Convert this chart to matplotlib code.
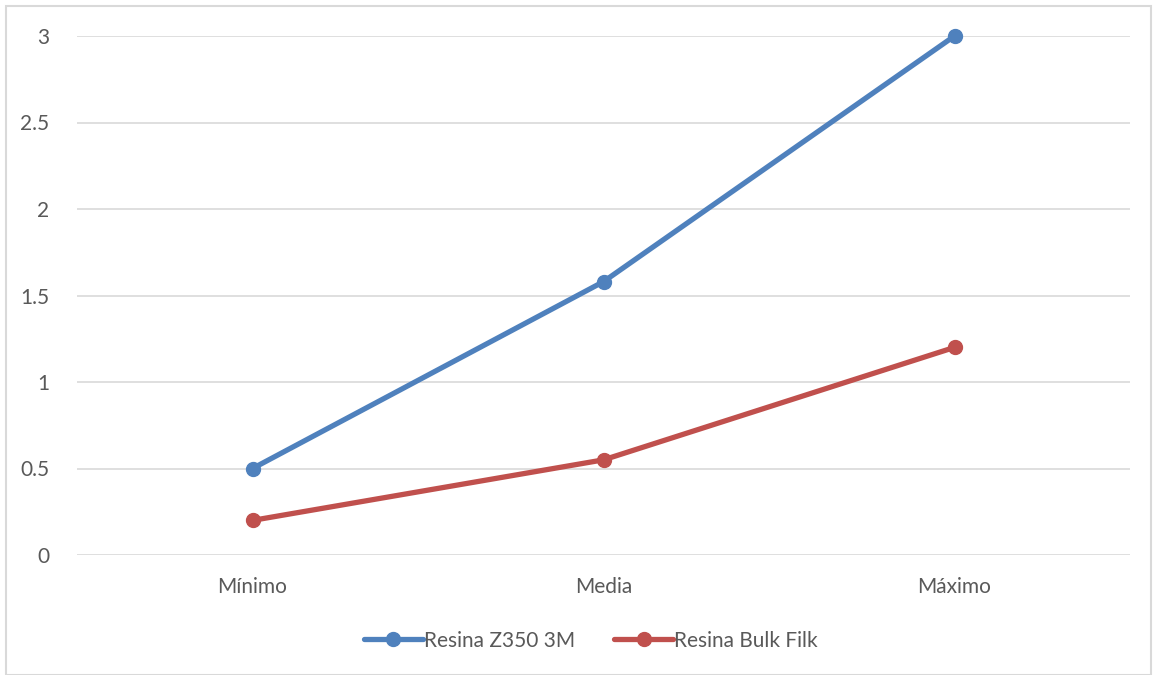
import matplotlib.pyplot as plt
from matplotlib.patches import Rectangle

categories = ["Mínimo", "Media", "Máximo"]
z350 = [0.5, 1.58, 3.0]
bulk = [0.2, 0.55, 1.2]
labels = ["Resina Z350 3M", "Resina Bulk Filk"]
colors = ["#4F81BD", "#C0504D"]

plt.rcParams["font.family"] = ["Lato", "DejaVu Sans"]
TXT = "#595959"

fig = plt.figure(figsize=(11.53, 6.75), dpi=100)
ax = fig.add_axes([77 / 1153, 120 / 675, 1053 / 1153, 519 / 675])

x = range(len(categories))
for vals, lab, col in zip([z350, bulk], labels, colors):
    ax.plot(x, vals, color=col, lw=3.8, marker="o", ms=10, label=lab,
            solid_capstyle="round", clip_on=False)

ax.set_xlim(-0.5, 2.5)
ax.set_ylim(0, 3)
ax.set_yticks([0, 0.5, 1, 1.5, 2, 2.5, 3])
ax.set_yticklabels(["0", "0.5", "1", "1.5", "2", "2.5", "3"])
ax.set_xticks(list(x))
ax.set_xticklabels(categories)
ax.tick_params(length=0, labelsize=15, colors=TXT, pad=16)
ax.tick_params(axis="y", pad=20)
ax.grid(axis="y", color="#D9D9D9", lw=1.2)
ax.set_axisbelow(True)
for s in ax.spines.values():
    s.set_visible(False)

leg = ax.legend(loc="center", bbox_to_anchor=(0.488, -0.165), ncol=2, frameon=False,
                fontsize=15, handlelength=2.8, handletextpad=0.05, columnspacing=1.9)
for t in leg.get_texts():
    t.set_color(TXT)

fig.patches.append(Rectangle((6 / 1153, 0), 1145 / 1153, 669 / 675, transform=fig.transFigure,
                             fill=False, edgecolor="#D9D9D9", lw=1.5))

fig.savefig("out.png", dpi=100)
